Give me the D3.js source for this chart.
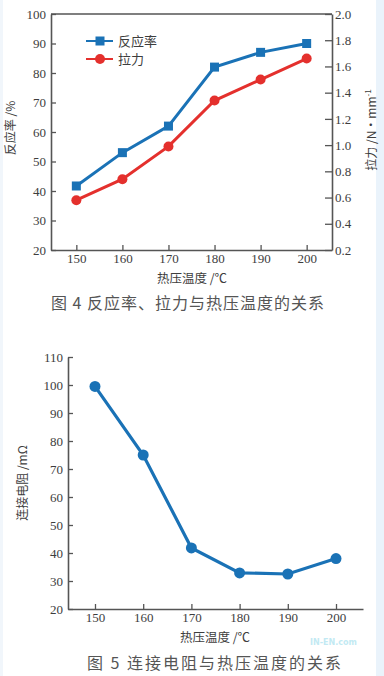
<!DOCTYPE html>
<html><head><meta charset="utf-8">
<script src="https://cdn.jsdelivr.net/npm/d3@7"></script>
<style>
html,body{margin:0;padding:0;background:#fff;}
svg{display:block;}
</style></head>
<body>
<svg id="c" width="384" height="676"></svg>
<script>
const temps = [150,160,170,180,190,200];
const xTicks = [150,160,170,180,190,200];
const reactionRate = [41.7,53,62,82,87,90];
const pullForce = [0.58,0.74,0.99,1.34,1.50,1.66];
const leftTicks1 = [20,30,40,50,60,70,80,90,100];
const rightTicks1 = [0.2,0.4,0.6,0.8,1.0,1.2,1.4,1.6,1.8,2.0];
const resistance = [99.5,75,41.8,32.9,32.5,38];
const yTicks2 = [20,30,40,50,60,70,80,90,100,110];

const svg = d3.select("#c");
const numFont = "'Liberation Serif','DejaVu Serif',serif";
const cjkFont = "'Noto Sans CJK SC','Noto Sans',sans-serif";
const txt = "#3d3d3d", axc = "#555", blue = "#1a72b6", red = "#e4302d";

// side strips
svg.append("rect").attr("x",376).attr("y",0).attr("width",8).attr("height",676).attr("fill","#eaf3fb");
svg.append("rect").attr("x",0).attr("y",0).attr("width",3).attr("height",676).attr("fill","#f1f6fb");

function styleAxis(g){
  g.selectAll(".domain").attr("stroke",axc).attr("stroke-width",1.6);
  g.selectAll(".tick line").attr("stroke",axc).attr("stroke-width",1.3);
  g.selectAll(".tick text").attr("fill",txt).attr("font-family",numFont).attr("font-size",13);
}

// ---------- Chart 1 ----------
const L1=51,R1=332,T1=14,B1=250;
const x1 = d3.scaleLinear().domain([144.5,205.5]).range([L1,R1]);
const yl1 = d3.scaleLinear().domain([20,100]).range([B1,T1]);
const yr1 = d3.scaleLinear().domain([0.2,2.0]).range([B1,T1]);
const g1 = svg.append("g");

const ax1b = g1.append("g").attr("transform",`translate(0,${B1})`)
  .call(d3.axisBottom(x1).tickValues(xTicks).tickSizeInner(-5).tickSizeOuter(0).tickPadding(4));
styleAxis(ax1b);
const ax1l = g1.append("g").attr("transform",`translate(${L1},0)`)
  .call(d3.axisLeft(yl1).tickValues(leftTicks1).tickSizeInner(-5).tickSizeOuter(0).tickPadding(5));
styleAxis(ax1l);
const ax1r = g1.append("g").attr("transform",`translate(${R1},0)`)
  .call(d3.axisRight(yr1).tickValues(rightTicks1).tickFormat(d3.format(".1f")).tickSizeInner(-7).tickSizeOuter(0).tickPadding(3));
styleAxis(ax1r);
g1.append("line").attr("x1",L1).attr("x2",R1).attr("y1",T1).attr("y2",T1).attr("stroke",axc).attr("stroke-width",1.6);

const line1b = d3.line().x((d,i)=>x1(temps[i])).y(d=>yl1(d));
const line1r = d3.line().x((d,i)=>x1(temps[i])).y(d=>yr1(d));
g1.append("path").attr("d",line1b(reactionRate)).attr("fill","none").attr("stroke",blue).attr("stroke-width",3);
g1.selectAll(".sq").data(reactionRate).join("rect")
  .attr("x",(d,i)=>x1(temps[i])-4.5).attr("y",d=>yl1(d)-4.5).attr("width",9).attr("height",9).attr("fill",blue);
g1.append("path").attr("d",line1r(pullForce)).attr("fill","none").attr("stroke",red).attr("stroke-width",3);
g1.selectAll(".ci").data(pullForce).join("circle")
  .attr("cx",(d,i)=>x1(temps[i])).attr("cy",d=>yr1(d)).attr("r",5).attr("fill",red);

// legend
const leg = [{n:"反应率",c:blue,s:"sq",y:41},{n:"拉力",c:red,s:"ci",y:59}];
leg.forEach(l=>{
  g1.append("line").attr("x1",86).attr("x2",113).attr("y1",l.y).attr("y2",l.y).attr("stroke",l.c).attr("stroke-width",2);
  if(l.s==="sq") g1.append("rect").attr("x",95.5).attr("y",l.y-4.5).attr("width",9).attr("height",9).attr("fill",l.c);
  else g1.append("circle").attr("cx",100).attr("cy",l.y).attr("r",5).attr("fill",l.c);
  g1.append("text").attr("x",118).attr("y",l.y+5).text(l.n).attr("font-family",cjkFont).attr("font-size",13).attr("fill",txt);
});

// axis titles
g1.append("text").attr("transform","translate(15,128) rotate(-90)").attr("text-anchor","middle")
  .attr("font-family",cjkFont).attr("font-size",12).attr("fill",txt).text("反应率 /%");
const rt = g1.append("text").attr("transform","translate(376,130) rotate(-90)").attr("text-anchor","middle")
  .attr("font-family",cjkFont).attr("font-size",12).attr("fill",txt);
rt.append("tspan").text("拉力 /N•mm");
rt.append("tspan").attr("dy",-5).attr("font-size",8).text("-1");
g1.append("text").attr("x",192).attr("y",283).attr("text-anchor","middle")
  .attr("font-family",cjkFont).attr("font-size",12.5).attr("fill",txt).text("热压温度 /℃");
g1.append("text").attr("x",188).attr("y",309).attr("text-anchor","middle").attr("letter-spacing",1)
  .attr("font-family",cjkFont).attr("font-size",16).attr("fill","#555").text("图 4  反应率、拉力与热压温度的关系");

// ---------- Chart 2 ----------
const L2=68,R2=363,T2=357,B2=609;
const x2 = d3.scaleLinear().domain([144.4,205.6]).range([L2,R2]);
const y2 = d3.scaleLinear().domain([20,110]).range([B2,T2]);
const g2 = svg.append("g");
const ax2b = g2.append("g").attr("transform",`translate(0,${B2})`)
  .call(d3.axisBottom(x2).tickValues(xTicks).tickSizeInner(-5).tickSizeOuter(0).tickPadding(4));
styleAxis(ax2b);
const ax2l = g2.append("g").attr("transform",`translate(${L2},0)`)
  .call(d3.axisLeft(y2).tickValues(yTicks2).tickSizeInner(-5).tickSizeOuter(0).tickPadding(5));
styleAxis(ax2l);
const line2 = d3.line().x((d,i)=>x2(temps[i])).y(d=>y2(d));
g2.append("path").attr("d",line2(resistance)).attr("fill","none").attr("stroke",blue).attr("stroke-width",3.2);
g2.selectAll(".ci2").data(resistance).join("circle")
  .attr("cx",(d,i)=>x2(temps[i])).attr("cy",d=>y2(d)).attr("r",5.5).attr("fill",blue);

g2.append("text").attr("transform","translate(27,483) rotate(-90)").attr("text-anchor","middle")
  .attr("font-family",cjkFont).attr("font-size",12).attr("fill",txt).text("连接电阻 /mΩ");
g2.append("text").attr("x",215).attr("y",642).attr("text-anchor","middle")
  .attr("font-family",cjkFont).attr("font-size",12.5).attr("fill",txt).text("热压温度 /℃");
g2.append("text").attr("x",215).attr("y",669).attr("text-anchor","middle").attr("letter-spacing",2)
  .attr("font-family",cjkFont).attr("font-size",16).attr("fill","#555").text("图 5  连接电阻与热压温度的关系");

// watermark
svg.append("text").attr("x",310).attr("y",645).attr("font-family","'DejaVu Sans',sans-serif").attr("font-size",8)
  .attr("font-weight","bold").attr("fill","#9adcec").attr("opacity",0.6).text("IN-EN.com");
</script>
</body></html>
